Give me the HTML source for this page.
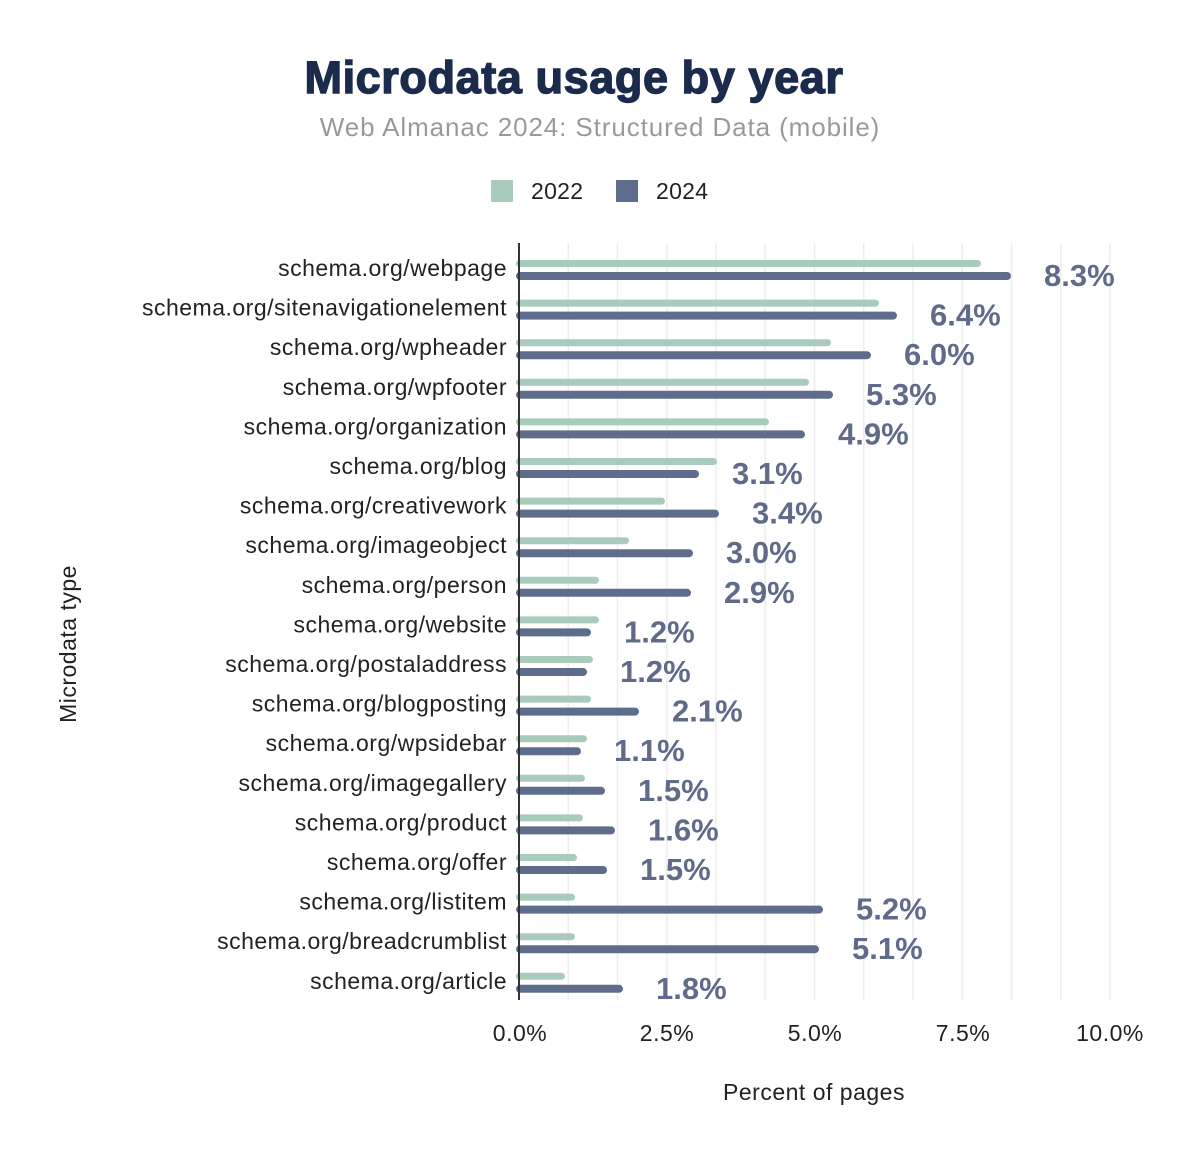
<!DOCTYPE html>
<html><head><meta charset="utf-8"><style>
body{margin:0;background:#fff;width:1200px;height:1164px;overflow:hidden}
svg text{font-family:"Liberation Sans",Arial,sans-serif}
</style></head><body>
<svg width="1200" height="1164" xmlns="http://www.w3.org/2000/svg">
<text x="574" y="93" text-anchor="middle" font-size="45" font-weight="900" fill="#1a2b4c" stroke="#1a2b4c" stroke-width="1.4" letter-spacing="0.6">Microdata usage by year</text>
<text x="600" y="136" text-anchor="middle" font-size="26" fill="#9a9a9a" letter-spacing="0.9">Web Almanac 2024: Structured Data (mobile)</text>
<rect x="491" y="180" width="22" height="22" fill="#a8cbbb"/>
<text x="531" y="199" font-size="23" fill="#222" letter-spacing="0.3">2022</text>
<rect x="616" y="180" width="22" height="22" fill="#5f6d8c"/>
<text x="656" y="199" font-size="23" fill="#222" letter-spacing="0.3">2024</text>
<g stroke="#eee" stroke-width="1.5" id="grid"></g>
<text transform="translate(76,644) rotate(-90)" text-anchor="middle" font-size="23" fill="#222" letter-spacing="0.5">Microdata type</text>
<text x="814" y="1100" text-anchor="middle" font-size="23" fill="#222" letter-spacing="0.5">Percent of pages</text>
<g font-size="23" fill="#222" text-anchor="middle" letter-spacing="0.5">
<text x="520" y="1041">0.0%</text><text x="667" y="1041">2.5%</text><text x="815" y="1041">5.0%</text><text x="963" y="1041">7.5%</text><text x="1110" y="1041">10.0%</text>
</g>
<g id="rows"></g>
<line x1="519" y1="243" x2="519" y2="1000" stroke="#333" stroke-width="2"/>
</svg>
<script>
const ns="http://www.w3.org/2000/svg";
const g=document.getElementById('grid');
for(let i=1;i<=12;i++){const x=519+i*49.25;const l=document.createElementNS(ns,'line');l.setAttribute('x1',x);l.setAttribute('x2',x);l.setAttribute('y1',243);l.setAttribute('y2',1000);g.appendChild(l);}
const d=[["webpage",981,1011,"8.3%"],["sitenavigationelement",879,897,"6.4%"],["wpheader",831,871,"6.0%"],["wpfooter",809,833,"5.3%"],["organization",769,805,"4.9%"],["blog",717,699,"3.1%"],["creativework",665,719,"3.4%"],["imageobject",629,693,"3.0%"],["person",599,691,"2.9%"],["website",599,591,"1.2%"],["postaladdress",593,587,"1.2%"],["blogposting",591,639,"2.1%"],["wpsidebar",587,581,"1.1%"],["imagegallery",585,605,"1.5%"],["product",583,615,"1.6%"],["offer",577,607,"1.5%"],["listitem",575,823,"5.2%"],["breadcrumblist",575,819,"5.1%"],["article",565,623,"1.8%"]];
let h='';
d.forEach((r,i)=>{const y=269+i*39.6;
h+=`<text x="507" y="${y+7}" text-anchor="end" font-size="23" letter-spacing="0.5" fill="#222">schema.org/${r[0]}</text>`;
h+=`<rect x="516" y="${y-9}" width="${r[1]-516}" height="7" rx="3.5" fill="#a8cbbb"/>`;
h+=`<rect x="516" y="${y+3}" width="${r[2]-516}" height="8" rx="4" fill="#5f6d8c"/>`;
h+=`<text x="${r[2]+33}" y="${y+17}" font-size="31" font-weight="bold" fill="#5f6b88">${r[3]}</text>`;});
document.getElementById('rows').innerHTML=h;
</script>
<svg width="0" height="0"></svg>
</body></html>
